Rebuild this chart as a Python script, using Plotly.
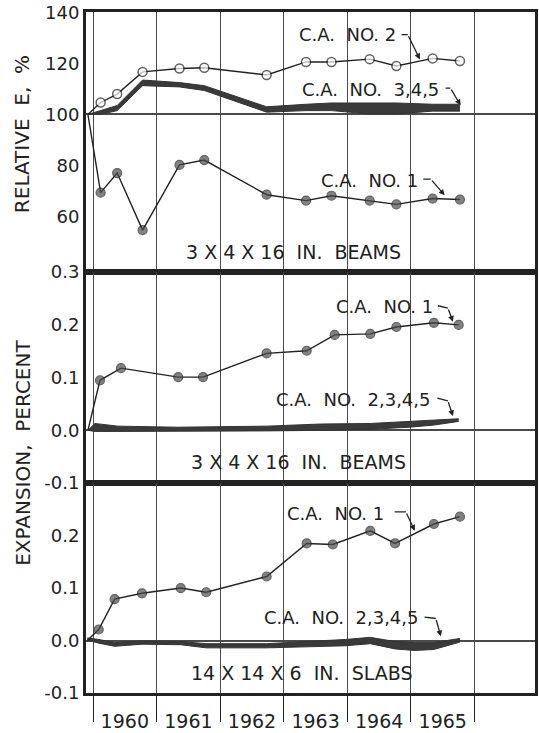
import plotly.graph_objects as go
from plotly.subplots import make_subplots

# ---------------- data ----------------
# Test dates (decimal years)
dates_e = [1959.92, 1960.12, 1960.38, 1960.78, 1961.36, 1961.75, 1962.73,
           1963.35, 1963.75, 1964.35, 1964.77, 1965.34, 1965.77]
rel_e_ca2 = [100, 104.7, 108, 116.7, 118, 118.3, 115.5, 120.6, 120.6, 121.7, 119, 122, 121]
rel_e_ca1 = [100, 69.3, 77, 54.6, 80.2, 82.1, 68.5, 66.2, 68.1, 66.2, 64.7, 67, 66.6]
rel_e_ca345_hi = [100, 101.5, 103.5, 113.5, 112.5, 111.3, 103.0, 104.0, 104.5, 104.5, 104.5, 104.0, 104.0]
rel_e_ca345_lo = [100, 100.0, 101.5, 111.3, 110.8, 109.4, 100.9, 101.5, 101.5, 100.2, 100.2, 101.3, 101.3]

dates_beam = [1959.92, 1960.11, 1960.44, 1961.34, 1961.73, 1962.73,
              1963.36, 1963.80, 1964.36, 1964.77, 1965.36, 1965.75]
exp_beam_ca1 = [0.0, 0.095, 0.118, 0.101, 0.101, 0.146, 0.151, 0.181, 0.183, 0.196, 0.204, 0.200]
dates_beam_band = [1959.92, 1960.03, 1960.39, 1961.34, 1962.73, 1963.58,
                   1964.36, 1964.98, 1965.36, 1965.75]
exp_beam_rest_hi = [0.0, 0.013, 0.008, 0.006, 0.008, 0.012, 0.013, 0.017, 0.019, 0.022]
exp_beam_rest_lo = [0.0, -0.002, -0.002, -0.002, -0.001, 0.0, 0.002, 0.006, 0.010, 0.017]

dates_slab = [1959.91, 1960.09, 1960.34, 1960.77, 1961.38, 1961.78, 1962.73,
              1963.36, 1963.77, 1964.36, 1964.75, 1965.36, 1965.77]
exp_slab_ca1 = [0.0, 0.021, 0.079, 0.090, 0.100, 0.092, 0.122, 0.185, 0.183, 0.209, 0.185, 0.222, 0.236]
dates_slab_band = [1959.91, 1960.09, 1960.34, 1960.77, 1961.38, 1961.78, 1962.73,
                   1963.36, 1963.97, 1964.36, 1964.75, 1965.06, 1965.36, 1965.77]
exp_slab_rest_hi = [0.005, 0.002, -0.004, -0.001, -0.002, -0.006, -0.006,
                    -0.002, 0.002, 0.006, -0.002, -0.004, -0.004, 0.004]
exp_slab_rest_lo = [0.001, -0.005, -0.011, -0.007, -0.008, -0.014, -0.014,
                    -0.012, -0.010, -0.006, -0.016, -0.019, -0.017, -0.003]

years = [1960, 1961, 1962, 1963, 1964, 1965]
year_bounds = [1960, 1961, 1962, 1963, 1964, 1965, 1966]
x_range = [1959.89, 1966.95]

ticks_e = [60, 80, 100, 120, 140]
ticks_exp_mid = [-0.1, 0.0, 0.1, 0.2, 0.3]
ticks_exp_bot = [-0.1, 0.0, 0.1, 0.2]

# ---------------- style ----------------
INK = "#222222"
GRID = "#4a4a4a"
FONT = "DejaVu Sans"

fig = make_subplots(rows=3, cols=1, shared_xaxes=True, vertical_spacing=0,
                    row_heights=[264, 214, 213])


def series(row, x, y, open_marker):
    sizes = [0] + [9] * (len(x) - 1)
    marker = dict(size=sizes, color="white" if open_marker else "#4d4d4d",
                  line=dict(color=INK, width=1.5 if open_marker else 1.2))
    fig.add_trace(go.Scatter(x=x, y=y, mode="lines+markers",
                             line=dict(color=INK, width=1.4),
                             marker=marker, showlegend=False, hoverinfo="skip"),
                  row=row, col=1)


def band(row, x, lo, hi):
    fig.add_trace(go.Scatter(x=x, y=lo, mode="lines", line=dict(color="#333333", width=1),
                             showlegend=False, hoverinfo="skip"), row=row, col=1)
    fig.add_trace(go.Scatter(x=x, y=hi, mode="lines", line=dict(color="#333333", width=1),
                             fill="tonexty", fillcolor="#3a3a3a",
                             showlegend=False, hoverinfo="skip"), row=row, col=1)


# top panel: relative dynamic modulus
band(1, dates_e, rel_e_ca345_lo, rel_e_ca345_hi)
series(1, dates_e, rel_e_ca2, True)
series(1, dates_e, rel_e_ca1, False)

# middle panel: beam expansion
band(2, dates_beam_band, exp_beam_rest_lo, exp_beam_rest_hi)
series(2, dates_beam, exp_beam_ca1, False)

# bottom panel: slab expansion
band(3, dates_slab_band, exp_slab_rest_lo, exp_slab_rest_hi)
series(3, dates_slab, exp_slab_ca1, False)

# ---------------- axes ----------------
for r in (1, 2, 3):
    fig.update_xaxes(range=x_range, showgrid=False, zeroline=False,
                     showline=True, mirror=True, linecolor=INK, linewidth=3,
                     minor=dict(tickvals=year_bounds, showgrid=True,
                                gridcolor=GRID, gridwidth=1.4),
                     row=r, col=1)

fig.update_xaxes(tickvals=[y + 0.5 for y in years], ticktext=[str(y) for y in years],
                 ticks="", showticklabels=True, ticklabelstandoff=9,
                 tickfont=dict(family=FONT, size=19, color=INK),
                 minor=dict(tickvals=year_bounds, showgrid=True, gridcolor=GRID,
                            gridwidth=1.4, ticks="outside", ticklen=26,
                            tickwidth=1.4, tickcolor=INK),
                 row=3, col=1)

common_y = dict(showgrid=False, showline=True, mirror=True, linecolor=INK,
                linewidth=3, ticks="", ticklabelstandoff=0,
                tickfont=dict(family=FONT, size=18, color=INK))

fig.update_yaxes(range=[38.1, 140.2], tickvals=ticks_e, ticktext=[str(v) for v in ticks_e],
                 zeroline=False,
                 minor=dict(tickvals=[100], showgrid=True, gridcolor=GRID, gridwidth=1.5),
                 row=1, col=1, **common_y)
fig.update_yaxes(range=[-0.1, 0.3], tickvals=ticks_exp_mid,
                 ticktext=[f"{v:.1f}" for v in ticks_exp_mid],
                 zeroline=True, zerolinecolor=GRID, zerolinewidth=2.2,
                 row=2, col=1, **common_y)
fig.update_yaxes(range=[-0.1, 0.3], tickvals=ticks_exp_bot,
                 ticktext=[f"{v:.1f}" for v in ticks_exp_bot],
                 zeroline=True, zerolinecolor=GRID, zerolinewidth=1.5,
                 row=3, col=1, **common_y)

# ---------------- labels ----------------
def label(row, text, x_end, y, knee_a, knee_b, tip):
    xr = "x" if row == 1 else f"x{row}"
    yr = "y" if row == 1 else f"y{row}"
    fig.add_annotation(x=x_end, y=y, xref=xr, yref=yr, text=text, showarrow=False,
                       xanchor="right", yanchor="middle",
                       font=dict(family=FONT, size=18, color=INK))
    fig.add_annotation(x=knee_b[0], y=knee_b[1], ax=knee_a[0], ay=knee_a[1],
                       xref=xr, yref=yr, axref=xr, ayref=yr, text="",
                       showarrow=True, arrowhead=0, arrowwidth=1.3, arrowcolor=INK,
                       standoff=0, startstandoff=0)
    fig.add_annotation(x=tip[0], y=tip[1], ax=knee_b[0], ay=knee_b[1],
                       xref=xr, yref=yr, axref=xr, ayref=yr, text="",
                       showarrow=True, arrowhead=2, arrowsize=0.9, arrowwidth=1.3,
                       arrowcolor=INK, standoff=0, startstandoff=0)


def caption(row, text, x, y):
    xr = "x" if row == 1 else f"x{row}"
    yr = "y" if row == 1 else f"y{row}"
    fig.add_annotation(x=x, y=y, xref=xr, yref=yr, text=text, showarrow=False,
                       xanchor="center", yanchor="middle",
                       font=dict(family=FONT, size=19, color=INK))


label(1, "C.A.  NO. 2", 1964.80, 131.3, (1964.83, 131.3), (1964.95, 131.3), (1965.14, 121.6))
label(1, "C.A.  NO.  3,4,5", 1965.47, 109.8, (1965.52, 110.3), (1965.62, 110.3), (1965.78, 103.6))
label(1, "C.A.  NO. 1", 1965.14, 74.2, (1965.17, 74.6), (1965.31, 74.6), (1965.53, 68.3))
caption(1, "3 X 4 X 16  IN.  BEAMS", 1963.16, 46.0)

label(2, "C.A.  NO. 1", 1965.37, 0.234, (1965.40, 0.237), (1965.58, 0.232), (1965.66, 0.206))
label(2, "C.A.  NO.  2,3,4,5", 1965.34, 0.058, (1965.39, 0.062), (1965.58, 0.056), (1965.66, 0.027))
caption(2, "3 X 4 X 16  IN.  BEAMS", 1963.23, -0.060)

label(3, "C.A.  NO. 1", 1964.61, 0.242, (1964.72, 0.245), (1964.92, 0.245), (1965.06, 0.209))
label(3, "C.A.  NO.  2,3,4,5", 1965.16, 0.043, (1965.19, 0.045), (1965.39, 0.042), (1965.47, 0.008))
caption(3, "14 X 14 X 6  IN.  SLABS", 1963.28, -0.062)

# axis titles
fig.add_annotation(x=-0.142, y=0.821, xref="paper", yref="paper", text="RELATIVE  E,  %",
                   textangle=-90, showarrow=False, xanchor="center", yanchor="middle",
                   font=dict(family=FONT, size=20, color=INK))
fig.add_annotation(x=-0.142, y=0.353, xref="paper", yref="paper", text="EXPANSION,  PERCENT",
                   textangle=-90, showarrow=False, xanchor="center", yanchor="middle",
                   font=dict(family=FONT, size=20, color=INK))

fig.update_layout(width=539, height=733, margin=dict(l=86, r=1, t=11, b=31),
                  paper_bgcolor="white", plot_bgcolor="white", showlegend=False)

fig.write_html("out.html")
